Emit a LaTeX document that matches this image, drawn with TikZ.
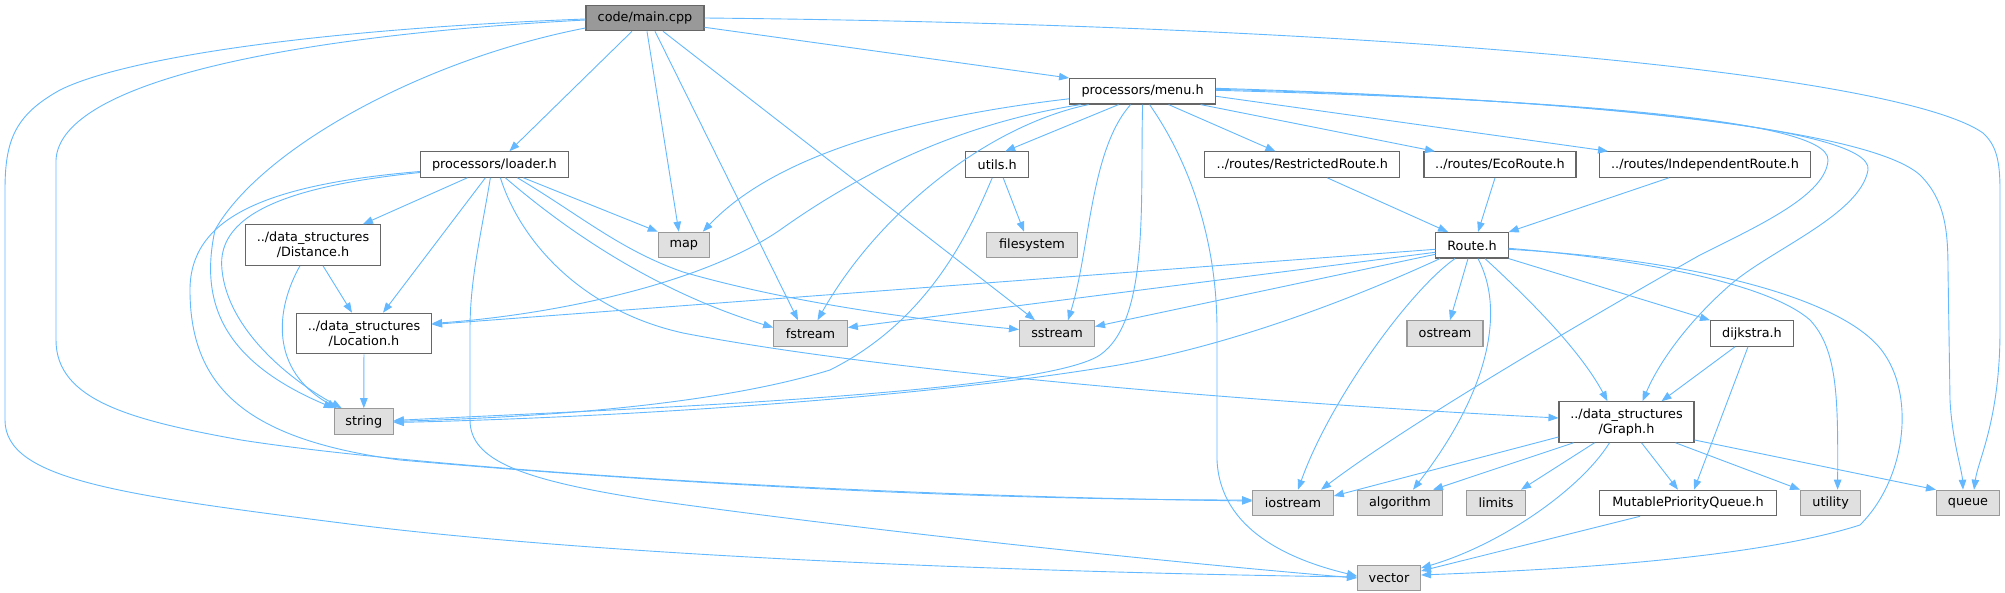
\documentclass[tikz,border=0pt]{standalone}
\usepackage{fontspec}
\setmainfont{DejaVu Sans}
\usepackage{xcolor}
\usepackage{tikz}
\usetikzlibrary{arrows.meta, positioning}

\definecolor{edgeblue}{HTML}{63B8FF}
\definecolor{sysfill}{HTML}{E0E0E0}
\definecolor{sysborder}{HTML}{999999}
\definecolor{hdrborder}{HTML}{666666}
\definecolor{rootfill}{HTML}{999999}

\begin{document}
\begin{tikzpicture}[
    x=1pt, y=-1pt,
    font=\fontsize{12.8}{15}\selectfont,
    box/.style={rectangle, draw, line width=1.1pt, minimum height=25.5pt, inner sep=1pt, align=center},
    hdr/.style={box, draw=hdrborder, fill=white},
    sysfile/.style={box, draw=sysborder, fill=sysfill},
    rootfile/.style={box, draw=hdrborder, fill=rootfill},
    twoline/.style={minimum height=40.5pt},
    arrow/.style={-{Triangle[length=10pt, width=7.5pt]}, color=edgeblue, line width=0.9pt}
]
    \useasboundingbox (0,0) rectangle (2005,593);

    % row 1 and 2
    \node [rootfile, minimum width=118pt] (main) at (645,18) {code/main.cpp};
    \node [hdr, minimum width=146pt] (menu) at (1142.6,91.3) {processors/menu.h};
    % row 3
    \node [hdr, minimum width=148pt] (loader) at (494.4,164.5) {processors/loader.h};
    \node [hdr, minimum width=63pt] (utils) at (997.2,164.6) {utils.h};
    \node [hdr, minimum width=195pt] (restricted) at (1302.4,164.6) {../routes/RestrictedRoute.h};
    \node [hdr, minimum width=152pt] (eco) at (1500,164.6) {../routes/EcoRoute.h};
    \node [hdr, minimum width=211pt] (independent) at (1705,164.5) {../routes/IndependentRoute.h};
    % row 4
    \node [hdr, twoline, minimum width=135pt] (distance) at (313,245) {../data\_structures\\/Distance.h};
    \node [sysfile, minimum width=51pt] (map) at (683.8,245) {map};
    \node [sysfile, minimum width=90.6pt] (filesystem) at (1032,245) {filesystem};
    \node [hdr, minimum width=72.3pt] (route) at (1472,245.3) {Route.h};
    % row 5
    \node [hdr, twoline, minimum width=135pt] (location) at (364,333.5) {../data\_structures\\/Location.h};
    \node [sysfile, minimum width=73.6pt] (fstream) at (810.5,333.5) {fstream};
    \node [sysfile, minimum width=75pt] (sstream) at (1057,333.5) {sstream};
    \node [sysfile, minimum width=76pt] (ostream) at (1445,333.5) {ostream};
    \node [hdr, minimum width=83pt] (dijkstra) at (1752,333.5) {dijkstra.h};
    % row 6
    \node [sysfile, minimum width=59pt] (string) at (363.8,421.5) {string};
    \node [hdr, twoline, minimum width=135pt] (graph) at (1626.5,422) {../data\_structures\\/Graph.h};
    % row 7
    \node [sysfile, minimum width=80.5pt] (iostream) at (1293,503) {iostream};
    \node [sysfile, minimum width=85.5pt] (algorithm) at (1400,503) {algorithm};
    \node [sysfile, minimum width=59pt] (limits) at (1496,503) {limits};
    \node [hdr, minimum width=177pt] (mpq) at (1688,503) {MutablePriorityQueue.h};
    \node [sysfile, minimum width=60pt] (utility) at (1830.6,503) {utility};
    \node [sysfile, minimum width=63pt] (queue) at (1968,503) {queue};
    % row 8
    \node [sysfile, minimum width=63pt] (vector) at (1389,578) {vector};

    % includes of main.cpp
    \draw [arrow] ([xshift=-13pt]main.south) -- ([xshift=15pt]loader.north);
    \draw [arrow] ([yshift=4pt]main.south east) -- (menu.north west);
    \draw [arrow] ([xshift=2pt]main.south) -- ([xshift=-5pt]map.north);
    \draw [arrow] ([xshift=10pt]main.south) -- ([xshift=-12.5pt]fstream.north);
    \draw [arrow] ([xshift=18pt]main.south) -- ([xshift=-22pt]sstream.north);
    \draw [arrow] (main.east) .. controls (1400,25) and (1900,75) .. (1983,133)
        .. controls (1996,145) and (2000,160) .. (2000,190) -- (2000,330)
        .. controls (2000,420) and (1978,460) .. ([xshift=6pt]queue.north);
    \draw [arrow] ([yshift=-10pt]main.west) .. controls (420,60) and (260,150) .. (215,230)
        .. controls (200,300) and (220,360) .. (string.north west);
    \draw [arrow] ([yshift=-2pt]main.west) .. controls (300,35) and (60,80) .. (56,160) -- (56,340)
        .. controls (56,400) and (130,420) .. (241,440)
        .. controls (400,465) and (800,495) .. ([yshift=2pt]iostream.west);
    \draw [arrow] ([yshift=-1pt]main.west) .. controls (300,30) and (120,60) .. (60,90)
        .. controls (15,115) and (5,140) .. (5,190) -- (5,420)
        .. controls (5,480) and (120,495) .. (357,525)
        .. controls (600,555) and (1000,572) .. ([yshift=1pt]vector.west);

    % includes of loader.h
    \draw [arrow] ([xshift=-27pt]loader.south) -- ([xshift=50pt]distance.north);
    \draw [arrow] ([xshift=-9pt]loader.south) -- ([xshift=19pt]location.north);
    \draw [arrow] ([xshift=29pt]loader.south) -- (map.north west);
    \draw [arrow] ([yshift=-8pt]loader.west) .. controls (300,185) and (215,210) .. (222,270)
        .. controls (228,330) and (290,380) .. ([xshift=8pt]string.north west);
    \draw [arrow] ([yshift=-7pt]loader.west) .. controls (260,185) and (190,220) .. (190,290)
        .. controls (190,390) and (250,440) .. (400,460)
        .. controls (800,495) and (1100,500) .. ([yshift=3pt]iostream.west);
    \draw [arrow] ([xshift=-4pt]loader.south) .. controls (480,240) and (470,280) .. (470,330) -- (470,420)
        .. controls (470,460) and (520,480) .. (650,500)
        .. controls (900,535) and (1200,565) .. (vector.west);
    \draw [arrow] ([xshift=11pt]loader.south) .. controls (560,225) and (650,290) .. ([yshift=6pt]fstream.west);
    \draw [arrow] ([xshift=23pt]loader.south) .. controls (580,215) and (620,250) .. (683,272)
        .. controls (780,300) and (900,318) .. ([yshift=4pt]sstream.west);
    \draw [arrow] ([xshift=6pt]loader.south) .. controls (520,240) and (580,310) .. (683,333)
        .. controls (900,375) and (1300,405) .. ([yshift=4pt]graph.west);

    % data structures
    \draw [arrow] ([xshift=10pt]distance.south) -- ([xshift=-12pt]location.north);
    \draw [arrow] ([xshift=-13pt]distance.south) .. controls (275,310) and (270,370) .. ([xshift=3pt]string.north west);
    \draw [arrow] (location) -- (string);

    % includes of menu.h
    \draw [arrow] ([yshift=-7.5pt]menu.west) .. controls (930,115) and (780,150) .. ([xshift=19pt]map.north);
    \draw [arrow] ([xshift=-62pt]menu.south) .. controls (950,125) and (850,180) .. (780,230)
        .. controls (700,285) and (550,315) .. ([yshift=10pt]location.east);
    \draw [arrow] ([xshift=-54pt]menu.south) .. controls (990,125) and (880,210) .. ([xshift=7pt]fstream.north);
    \draw [arrow] ([xshift=-24pt]menu.south) -- ([xshift=8pt]utils.north);
    \draw [arrow] ([xshift=-12pt]menu.south) .. controls (1090,150) and (1090,250) .. ([xshift=11pt]sstream.north);
    \draw [arrow] (menu.south) .. controls (1140,200) and (1150,320) .. (1100,355)
        .. controls (1040,395) and (600,410) .. ([yshift=1pt]string.east);
    \draw [arrow] ([xshift=7pt]menu.south) .. controls (1195,170) and (1217,250) .. (1217,330) -- (1217,460)
        .. controls (1220,530) and (1290,560) .. ([yshift=2pt]vector.west);
    \draw [arrow] ([xshift=26pt]menu.south) -- ([xshift=-27pt]restricted.north);
    \draw [arrow] ([xshift=58pt]menu.south) -- ([xshift=-65pt]eco.north);
    \draw [arrow] ([yshift=-5pt]menu.east) -- ([xshift=-97pt]independent.north);
    \draw [arrow] ([yshift=1pt]menu.east) .. controls (1500,98) and (1830,115) .. (1828,160)
        .. controls (1826,195) and (1760,225) .. (1700,255)
        .. controls (1550,340) and (1400,430) .. ([xshift=28pt]iostream.north);
    \draw [arrow] ([yshift=2pt]menu.east) .. controls (1550,98) and (1875,125) .. (1868,170)
        .. controls (1860,215) and (1770,250) .. (1730,285)
        .. controls (1690,320) and (1660,360) .. ([xshift=16pt]graph.north);
    \draw [arrow] ([yshift=3pt]menu.east) .. controls (1600,100) and (1870,130) .. (1920,175)
        .. controls (1945,200) and (1948,230) .. (1948,270) -- (1950,400)
        .. controls (1952,440) and (1962,470) .. ([xshift=-5pt]queue.north);

    % utils.h
    \draw [arrow] ([xshift=6pt]utils.south) -- ([xshift=-8pt]filesystem.north);
    \draw [arrow] ([xshift=-5pt]utils.south) .. controls (970,230) and (930,320) .. (830,370)
        .. controls (700,410) and (500,418) .. (string.east);

    % routes
    \draw [arrow] ([xshift=25pt]restricted.south) -- ([xshift=-24pt]route.north);
    \draw [arrow] ([xshift=-5pt]eco.south) -- ([xshift=6pt]route.north);
    \draw [arrow] ([xshift=-36pt]independent.south) -- (route.north east);

    % includes of Route.h
    \draw [arrow] ([yshift=-4pt]route.west) -- ([yshift=9pt]location.east);
    \draw [arrow] ([yshift=-7pt]route.west) -- ([yshift=6pt]fstream.east);
    \draw [arrow] ([yshift=-9pt]route.west) -- ([yshift=7pt]sstream.east);
    \draw [arrow] ([xshift=-32pt]route.south) .. controls (1350,300) and (1220,350) .. (1100,368)
        .. controls (900,400) and (600,418) .. ([yshift=-1pt]string.east);
    \draw [arrow] ([xshift=-17pt]route.south) .. controls (1410,290) and (1330,400) .. ([xshift=5pt]iostream.north);
    \draw [arrow] ([xshift=-4pt]route.south) -- ([xshift=5pt]ostream.north);
    \draw [arrow] ([xshift=6pt]route.south) .. controls (1505,310) and (1490,390) .. ([xshift=13pt]algorithm.north);
    \draw [arrow] ([xshift=13pt]route.south) .. controls (1530,300) and (1580,350) .. ([xshift=-19pt]graph.north);
    \draw [arrow] (route.south east) -- (dijkstra.north west);
    \draw [arrow] ([yshift=-3pt]route.east) .. controls (1650,260) and (1770,285) .. (1810,320)
        .. controls (1838,350) and (1838,400) .. ([xshift=7pt]utility.north);
    \draw [arrow] ([yshift=-4pt]route.east) .. controls (1700,260) and (1850,300) .. (1885,355)
        .. controls (1915,400) and (1905,480) .. (1860,525)
        .. controls (1750,560) and (1550,570) .. ([yshift=3pt]vector.east);

    % includes of Graph.h
    \draw [arrow] ([yshift=-15pt]graph.west) -- ([yshift=7pt]iostream.east);
    \draw [arrow] ([xshift=-53pt]graph.south) -- ([xshift=33pt]algorithm.north);
    \draw [arrow] ([xshift=-32pt]graph.south) -- ([xshift=25pt]limits.north);
    \draw [arrow] ([xshift=-17pt]graph.south) .. controls (1580,490) and (1500,545) .. ([yshift=10pt]vector.east);
    \draw [arrow] ([xshift=15pt]graph.south) -- ([xshift=-10pt]mpq.north);
    \draw [arrow] ([xshift=49pt]graph.south) -- (utility.north west);
    \draw [arrow] ([yshift=-18pt]graph.east) -- (queue.north west);

    % dijkstra.h and MutablePriorityQueue.h
    \draw [arrow] ([xshift=-17pt]dijkstra.south) -- ([xshift=35pt]graph.north);
    \draw [arrow] ([xshift=-4pt]dijkstra.south) -- ([xshift=6pt]mpq.north);
    \draw [arrow] ([xshift=-48pt]mpq.south) -- ([yshift=7pt]vector.east);
\end{tikzpicture}
\end{document}
